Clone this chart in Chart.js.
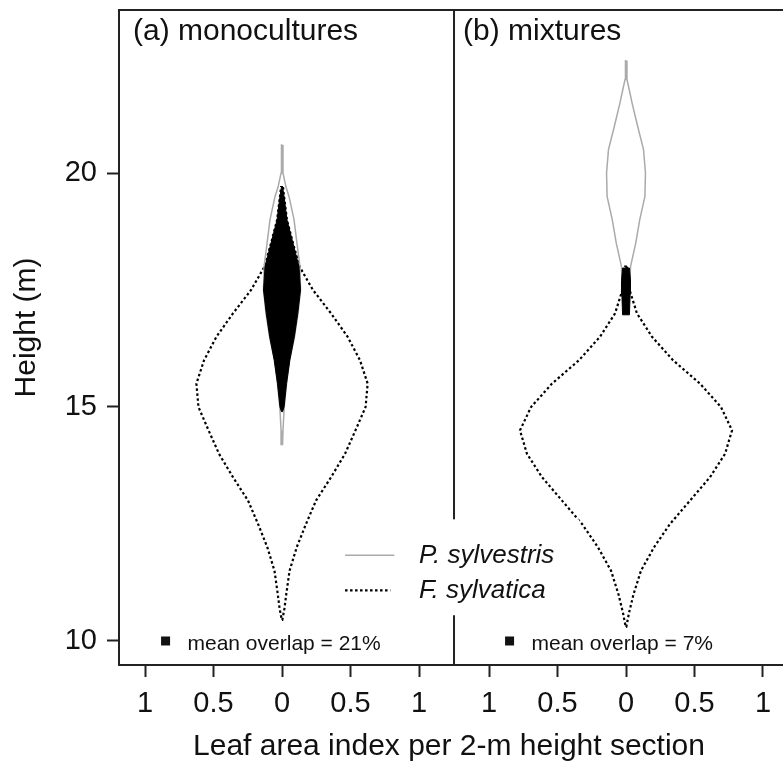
<!DOCTYPE html>
<html>
<head>
<meta charset="utf-8">
<script src="https://cdn.jsdelivr.net/npm/chart.js@4.4.1/dist/chart.umd.min.js"></script>
<style>
  html, body { margin: 0; padding: 0; background: #fff; overflow: hidden; }
  #wrap { width: 783px; height: 776px; }
</style>
</head>
<body>
<div id="wrap"><canvas id="chart" width="783" height="776"></canvas></div>
<script>
// ===== data =====
// heights in m, half-widths of the violins in LAI units

const panelCentres = [0, 2.511];   // centre of panel (a) and (b) on the shared x axis
const panelLabels = ['(a) monocultures', '(b) mixtures'];
const overlapLabels = ['mean overlap = 21%', 'mean overlap = 7%'];
const speciesNames = ['P. sylvestris', 'F. sylvatica'];

const xTickOffsets = [-1, -0.5, 0, 0.5, 1];
const xTickLabels = ['1', '0.5', '0', '0.5', '1'];
const yTicks = [10, 15, 20];

// (a) monocultures
const pineMonoHeight = [20.6, 20.0, 19.7, 19.5, 19.0, 18.5, 18.0, 17.5, 17.0, 16.5, 16.0, 15.5, 15.0, 14.5, 14.2];
const pineMonoWidth = [0.004, 0.007, 0.029, 0.051, 0.088, 0.109, 0.131, 0.135, 0.117, 0.091, 0.055, 0.033, 0.016, 0.007, 0.004];

const beechMonoHeight = [19.7, 19.5, 19.0, 18.5, 18.0, 17.5, 17.0, 16.5, 16.0, 15.5, 15.0, 14.5, 14.0, 13.5, 13.0, 12.5, 12.0, 11.5, 11.0, 10.7, 10.45];
const beechMonoWidth = [0.007, 0.015, 0.036, 0.080, 0.128, 0.226, 0.358, 0.479, 0.569, 0.625, 0.61, 0.536, 0.460, 0.358, 0.248, 0.175, 0.107, 0.055, 0.031, 0.018, 0.002];

const overlapMonoHeight = [19.7, 19.5, 19.0, 18.5, 18.0, 17.5, 17.0, 16.5, 16.0, 15.5, 15.0, 14.9];
const overlapMonoWidth = [0.004, 0.015, 0.036, 0.080, 0.124, 0.135, 0.115, 0.090, 0.057, 0.033, 0.015, 0.004];

// (b) mixtures
const pineMixHeight = [22.4, 22.0, 21.8, 21.5, 21.0, 20.5, 20.0, 19.5, 19.0, 18.5, 18.0, 17.5, 17.0];
const pineMixWidth = [0.004, 0.007, 0.022, 0.044, 0.085, 0.128, 0.142, 0.138, 0.100, 0.071, 0.033, 0.026, 0.015];

const beechMixHeight = [18.0, 17.5, 17.0, 16.5, 16.0, 15.5, 15.0, 14.5, 14.0, 13.5, 13.0, 12.5, 12.0, 11.5, 11.0, 10.6, 10.3];
const beechMixWidth = [0.007, 0.026, 0.080, 0.190, 0.343, 0.540, 0.693, 0.774, 0.723, 0.613, 0.467, 0.321, 0.204, 0.109, 0.055, 0.022, 0.002];

const overlapMixHeight = [17.97, 17.7, 17.4, 16.97];
const overlapMixWidth = [0.025, 0.033, 0.030, 0.025];

// ==================================

const FONT = "'Liberation Sans', Arial, sans-serif";
const INK = '#111';
const PINE_COL = '#aaaaaa';
const DOTS = [2.5, 2.5];

// closed outline : right side top->bottom, left side bottom->top
function outline(centre, heights, widths) {
    const right = heights.map((h, i) => ({ x: centre + widths[i], y: h }));
    const left = heights.map((h, i) => ({ x: centre - widths[i], y: h })).reverse();
    return right.concat(left, [right[0]]);
}

function beech(centre, h, w) {
    return {
        data: outline(centre, h, w),
        borderColor: '#000', borderWidth: 2.2, borderDash: DOTS,
        fill: false, showLine: true, pointRadius: 0, tension: 0, order: 3
    };
}
function pine(centre, h, w) {
    return {
        data: outline(centre, h, w),
        borderColor: PINE_COL, borderWidth: 1.5,
        fill: false, showLine: true, pointRadius: 0, tension: 0, order: 2
    };
}
function overlap(centre, h, w) {
    return {
        data: outline(centre, h, w),
        borderColor: '#000', borderWidth: 1, backgroundColor: '#000',
        fill: 'shape', showLine: true, pointRadius: 0, tension: 0, order: 1
    };
}

const datasets = [
    beech(panelCentres[0], beechMonoHeight, beechMonoWidth),
    beech(panelCentres[1], beechMixHeight, beechMixWidth),
    pine(panelCentres[0], pineMonoHeight, pineMonoWidth),
    pine(panelCentres[1], pineMixHeight, pineMixWidth),
    overlap(panelCentres[0], overlapMonoHeight, overlapMonoWidth),
    overlap(panelCentres[1], overlapMixHeight, overlapMixWidth)
];

// frame, divider, panel labels, legend, overlap notes, axis titles
const decor = {
    id: 'decor',
    afterDatasetsDraw(chart) {
        const { ctx, chartArea: a, scales: { x, y } } = chart;
        ctx.save();

        // frame (right side falls outside the picture)
        ctx.strokeStyle = '#222';
        ctx.lineWidth = 2;
        ctx.beginPath();
        ctx.moveTo(chart.width + 2, a.top);
        ctx.lineTo(a.left, a.top);
        ctx.lineTo(a.left, a.bottom);
        ctx.lineTo(chart.width + 2, a.bottom);
        ctx.stroke();

        // divider between the two panels
        const xDiv = x.getPixelForValue((panelCentres[0] + panelCentres[1]) / 2);
        ctx.beginPath();
        ctx.moveTo(xDiv, a.top);
        ctx.lineTo(xDiv, a.bottom);
        ctx.stroke();

        // legend with white background
        const lx0 = x.getPixelForValue(0.35), lx1 = x.getPixelForValue(2.17);
        const ly0 = y.getPixelForValue(12.6), ly1 = y.getPixelForValue(10.55);
        ctx.fillStyle = '#fff';
        ctx.fillRect(lx0, ly0, lx1 - lx0, ly1 - ly0);

        const rowY = [y.getPixelForValue(11.83), y.getPixelForValue(11.08)];
        const sx0 = x.getPixelForValue(0.46), sx1 = x.getPixelForValue(0.82);
        ctx.lineWidth = 1.5;
        ctx.strokeStyle = PINE_COL;
        ctx.beginPath(); ctx.moveTo(sx0, rowY[0]); ctx.lineTo(sx1, rowY[0]); ctx.stroke();
        ctx.strokeStyle = '#000';
        ctx.lineWidth = 2.2;
        ctx.setLineDash(DOTS);
        ctx.beginPath(); ctx.moveTo(sx0, rowY[1]); ctx.lineTo(sx1 - 4, rowY[1]); ctx.stroke();
        ctx.setLineDash([]);

        ctx.fillStyle = INK;
        ctx.textBaseline = 'middle';
        ctx.textAlign = 'left';
        ctx.font = 'italic 26px ' + FONT;
        const tx = x.getPixelForValue(1.0);
        speciesNames.forEach((s, i) => ctx.fillText(s, tx, rowY[i]));

        // panel labels
        ctx.font = '30px ' + FONT;
        ctx.fillText(panelLabels[0], a.left + 14, a.top + 22);
        ctx.fillText(panelLabels[1], xDiv + 9, a.top + 22);

        // mean overlap notes
        ctx.font = '21px ' + FONT;
        panelCentres.forEach((c, i) => {
            const py = y.getPixelForValue(10);
            const qx = x.getPixelForValue(c - 0.85);
            ctx.fillRect(qx - 4.5, py - 4.5, 9, 9);
            ctx.fillText(overlapLabels[i], x.getPixelForValue(c - 0.69), py + 3);
        });

        // axis titles
        ctx.font = '30px ' + FONT;
        ctx.textAlign = 'center';
        ctx.fillText('Leaf area index per 2-m height section', a.left + 330, 747);
        ctx.translate(27, y.getPixelForValue(16.7));
        ctx.rotate(-Math.PI / 2);
        ctx.fillText('Height (m)', 0, 0);

        ctx.restore();
    }
};

new Chart(document.getElementById('chart'), {
    type: 'scatter',
    data: { datasets },
    options: {
        responsive: false,
        animation: false,
        layout: { padding: { top: 10, left: 0, right: 0, bottom: 0 } },
        plugins: { legend: { display: false }, tooltip: { enabled: false } },
        scales: {
            x: {
                type: 'linear',
                min: -1.19,
                max: 3.657,
                border: { display: false },
                grid: { display: true, drawOnChartArea: false, drawTicks: true, tickLength: 12, tickColor: '#222', tickWidth: 2 },
                afterBuildTicks: axis => {
                    axis.ticks = [];
                    panelCentres.forEach(c => xTickOffsets.forEach(o => axis.ticks.push({ value: c + o })));
                },
                ticks: {
                    autoSkip: false, maxRotation: 0, padding: 10,
                    color: INK, font: { family: FONT, size: 29 },
                    callback: (v, i) => xTickLabels[i % xTickLabels.length]
                },
                afterFit: s => { s.height = 111; s.paddingLeft = 0; s.paddingRight = 0; }
            },
            y: {
                type: 'linear',
                min: 9.487,
                max: 23.483,
                border: { display: false },
                grid: { display: true, drawOnChartArea: false, drawTicks: true, tickLength: 12, tickColor: '#222', tickWidth: 2 },
                afterBuildTicks: axis => { axis.ticks = yTicks.map(v => ({ value: v })); },
                ticks: { padding: 10, color: INK, font: { family: FONT, size: 29 } },
                afterFit: s => { s.width = 119; s.paddingTop = 0; s.paddingBottom = 0; }
            }
        }
    },
    plugins: [decor]
});
</script>
</body>
</html>
